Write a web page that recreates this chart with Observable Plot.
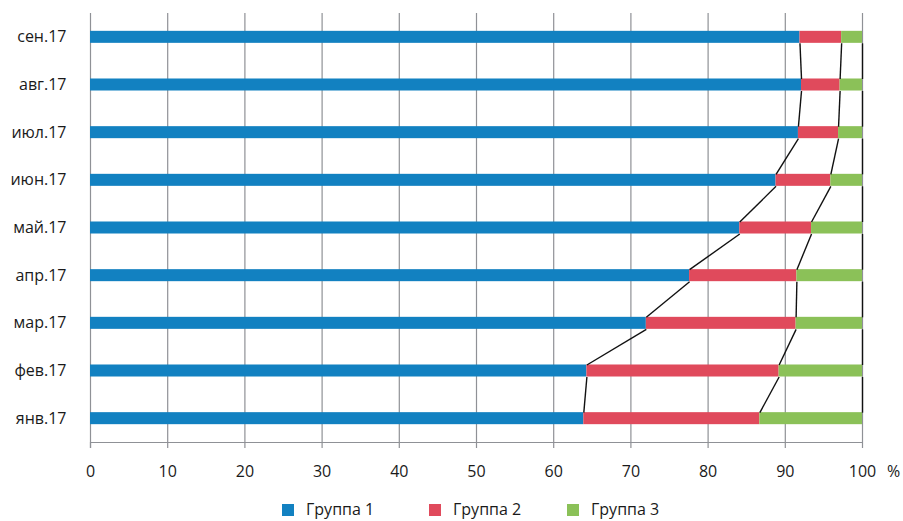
<!DOCTYPE html>
<html><head><meta charset="utf-8">
<script src="https://cdn.jsdelivr.net/npm/d3@7"></script>
<script src="https://cdn.jsdelivr.net/npm/@observablehq/plot@0.6"></script>
<style>
html,body{margin:0;padding:0;background:#fff;}
body{font-family:"Open Sans",sans-serif;color:#1a1a1a;width:903px;height:521px;overflow:hidden;}
#legend{position:relative;height:31px;font-size:16px;}
.item{position:absolute;top:0;display:flex;align-items:center;height:28px;}
.sw{width:12px;height:12px;margin-right:12px;margin-top:12px;}
.lt{margin-top:10px;line-height:18px;}
</style></head><body>
<div id="chart"></div>
<div id="legend"></div>
<script>
const months = ["янв.17","фев.17","мар.17","апр.17","май.17","июн.17","июл.17","авг.17","сен.17"];
const groups = ["Группа 1","Группа 2","Группа 3"];
const group1 = [63.9, 64.3, 72.0, 77.6, 84.1, 88.8, 91.7, 92.1, 91.9];
const group2 = [22.8, 24.9, 19.4, 13.9,  9.3,  7.1,  5.2,  5.0,  5.4];
const group3 = [13.3, 10.8,  8.6,  8.5,  6.6,  4.1,  3.1,  2.9,  2.7];
const xTicks = [0,10,20,30,40,50,60,70,80,90,100];
const colors = ["#1281c1","#e04a5c","#8bc158"];
const grid = "#8f9196";
const h = 0.126; // half bar thickness in band units

const series = [group1, group2, group3];
const rows = [];
const cums = [[],[],[]];
months.forEach((m, i) => {
  let acc = 0;
  series.forEach((s, k) => {
    rows.push({i, month: m, group: groups[k], x1: acc, x2: acc + s[i]});
    acc += s[i];
    cums[k][i] = acc;
  });
});
const links = [];
cums.forEach(c => {
  for (let i = months.length - 1; i > 0; i--) {
    links.push({xa: c[i], ya: i - h, xb: c[i-1], yb: i - 1 + h});
  }
});

const chart = Plot.plot({
  width: 903,
  height: 490,
  marginLeft: 90,
  marginRight: 41,
  marginTop: 13,
  marginBottom: 48,
  style: {fontFamily: '"Open Sans", sans-serif', fontSize: "16px", color: "#1a1a1a", background: "#fff", overflow: "visible"},
  x: {domain: [0, 100]},
  y: {domain: [-0.5, 8.5]},
  color: {domain: groups, range: colors},
  marks: [
    Plot.ruleX(xTicks.slice(1), {stroke: grid, strokeWidth: 1.2}),
    Plot.ruleX([0], {stroke: grid, strokeWidth: 1.2, insetBottom: -6}),
    Plot.ruleY([-0.5], {stroke: grid, strokeWidth: 1.2}),
    Plot.rect(rows, {x1: "x1", x2: "x2", y1: d => d.i - h, y2: d => d.i + h, fill: "group"}),
    Plot.link(links, {x1: "xa", y1: "ya", x2: "xb", y2: "yb", stroke: "#111", strokeWidth: 1.4}),
    Plot.axisY(d3.range(months.length), {tickFormat: i => months[i], tickSize: 0, tickPadding: 24, label: null}),
    Plot.axisX(xTicks, {tickSize: 6, tickPadding: 17, stroke: grid, strokeWidth: 1.2, label: null}),
    Plot.text(["%"], {x: () => 100, y: () => -0.5, text: d => d, dx: 31, dy: 29, clip: false})
  ]
});
document.getElementById("chart").appendChild(chart);

const legend = document.getElementById("legend");
const lefts = [282, 429, 567];
groups.forEach((g, k) => {
  const it = document.createElement("div");
  it.className = "item";
  it.style.left = lefts[k] + "px";
  it.innerHTML = `<div class="sw" style="background:${colors[k]}"></div><div class="lt">${g}</div>`;
  legend.appendChild(it);
});
</script>
</body></html>
